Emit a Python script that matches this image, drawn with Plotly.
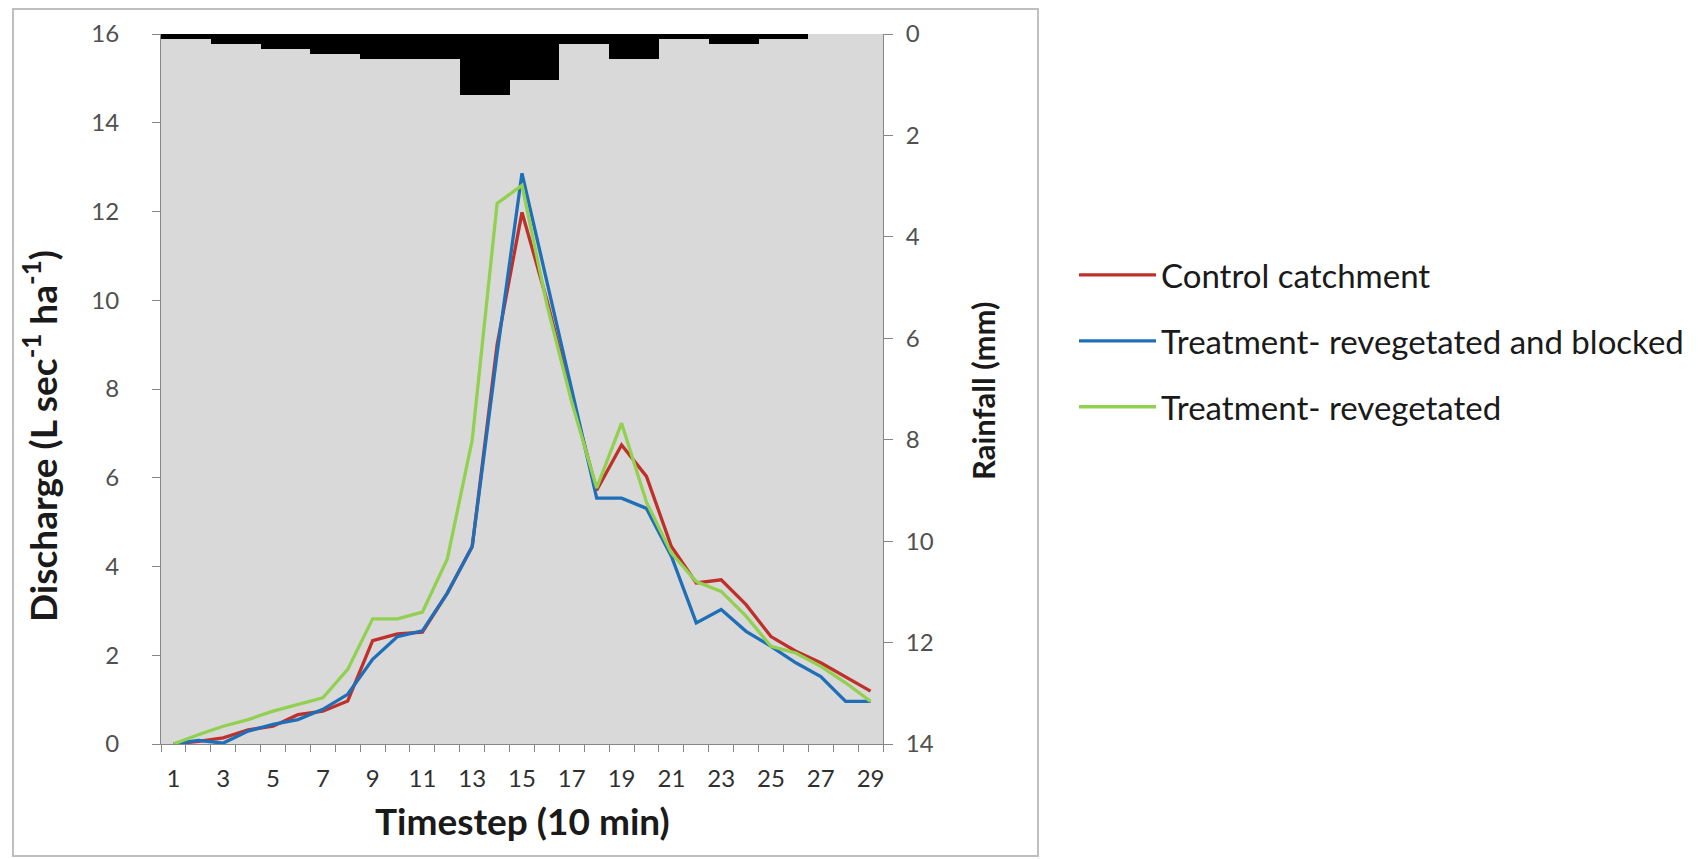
import plotly.graph_objects as go

# ---- data ----
timesteps = list(range(1, 30))
rainfall_mm = [0.1, 0.1, 0.2, 0.2, 0.3, 0.3, 0.4, 0.4, 0.5, 0.5, 0.5, 0.5, 1.2, 1.2, 0.9,
               0.9, 0.2, 0.2, 0.5, 0.5, 0.1, 0.1, 0.2, 0.2, 0.1, 0.1, 0.0, 0.0, 0.0]
control = [0.0, 0.06, 0.14, 0.32, 0.40, 0.66, 0.74, 0.97, 2.33, 2.48, 2.52, 3.40, 4.45, 9.0, 11.98,
           10.0, 7.8, 5.72, 6.74, 6.03, 4.45, 3.63, 3.70, 3.14, 2.42, 2.09, 1.83, 1.52, 1.19]
reveg_blocked = [0.0, 0.08, 0.02, 0.29, 0.44, 0.55, 0.78, 1.12, 1.91, 2.42, 2.55, 3.40, 4.45, 8.8, 12.86,
                 10.4, 8.0, 5.54, 5.54, 5.31, 4.23, 2.73, 3.03, 2.54, 2.20, 1.83, 1.52, 0.96, 0.96]
reveg = [0.0, 0.21, 0.40, 0.55, 0.74, 0.89, 1.04, 1.68, 2.82, 2.82, 2.97, 4.17, 6.85, 12.18, 12.59,
         9.9, 7.7, 5.77, 7.23, 5.45, 4.30, 3.66, 3.44, 2.88, 2.20, 2.05, 1.75, 1.38, 0.96]
series_names = ["Control catchment", "Treatment- revegetated and blocked", "Treatment- revegetated"]
series_colors = ["#C0302B", "#1F6EB8", "#92D050"]
xtick_vals = list(range(1, 30, 2))
xtick_text = [str(v) for v in xtick_vals]

# ---- layout geometry (pixels) ----
W, H = 1704, 859
PL, PR, PT, PB = 161, 883, 34, 744


def px(x):
    return (x - PL) / (PR - PL)


def py(y):
    return (PB - y) / (PB - PT)


FONT = "Lato, 'Open Sans', sans-serif"
AXC = "#868686"

fig = go.Figure()
fig.add_trace(go.Bar(x=timesteps, y=rainfall_mm, yaxis="y2", width=1,
                     marker=dict(color="black", line=dict(width=0)),
                     showlegend=False, name="Rainfall"))
for name, vals, col in zip(series_names, [control, reveg_blocked, reveg], series_colors):
    fig.add_trace(go.Scatter(x=timesteps, y=vals, mode="lines", name=name,
                             legendgroup=name,
                             line=dict(color=col, width=3.3)))

fig.update_layout(
    width=W, height=H,
    margin=dict(l=PL, r=W - PR, t=PT, b=H - PB, pad=0),
    paper_bgcolor="white",
    plot_bgcolor="#D9D9D9",
    bargap=0,
    font=dict(family=FONT, color="#404040"),
    xaxis=dict(
        range=[0.5, 29.5], tickmode="array", tickvals=xtick_vals, ticktext=xtick_text,
        ticks="", showline=True, linecolor=AXC, linewidth=1, showgrid=False, zeroline=False,
        tickfont=dict(size=24, color="#303030"), ticklabelstandoff=13,
        minor=dict(ticks="outside", tickmode="linear", tick0=0.5, dtick=1,
                   ticklen=7, tickcolor=AXC, showgrid=False),
    ),
    yaxis=dict(
        range=[0, 16], dtick=2, ticks="outside", ticklen=8, tickcolor=AXC,
        showline=True, linecolor=AXC, linewidth=1, showgrid=False, zeroline=False,
        tickfont=dict(size=24, color="#505050"), ticklabelstandoff=28,
    ),
    yaxis2=dict(
        range=[14, 0], dtick=2, ticks="outside", ticklen=9, tickcolor=AXC,
        overlaying="y", side="right", showline=True, linecolor=AXC, linewidth=1,
        showgrid=False, zeroline=False,
        tickfont=dict(size=24, color="#505050"), ticklabelstandoff=8,
    ),
    legend=dict(
        x=px(1074), y=py(341), xanchor="left", yanchor="middle",
        font=dict(size=33, color="#1a1a1a", family=FONT),
        tracegroupgap=20, itemwidth=77, bgcolor="rgba(0,0,0,0)",
    ),
    annotations=[
        dict(text="Discharge (L sec<sup>-1</sup> ha<sup>-1</sup>)", textangle=-90,
             xref="paper", yref="paper", x=px(40), y=py(436),
             xanchor="center", yanchor="middle", showarrow=False,
             font=dict(size=37, color="#1a1a1a", family=FONT, weight="bold")),
        dict(text="Timestep (10 min)",
             xref="paper", yref="paper", x=px(522), y=py(820),
             xanchor="center", yanchor="middle", showarrow=False,
             font=dict(size=37, color="#1a1a1a", family=FONT, weight="bold")),
        dict(text="Rainfall (mm)", textangle=-90,
             xref="paper", yref="paper", x=px(983), y=py(391),
             xanchor="center", yanchor="middle", showarrow=False,
             font=dict(size=31, color="#1a1a1a", family=FONT, weight="bold")),
    ],
    shapes=[
        dict(type="rect", xref="paper", yref="paper",
             x0=px(13), x1=px(1038), y0=py(856), y1=py(9),
             line=dict(color="#BFBFBF", width=2), fillcolor="rgba(0,0,0,0)", layer="below"),
    ],
)

fig.write_html("out.html")
